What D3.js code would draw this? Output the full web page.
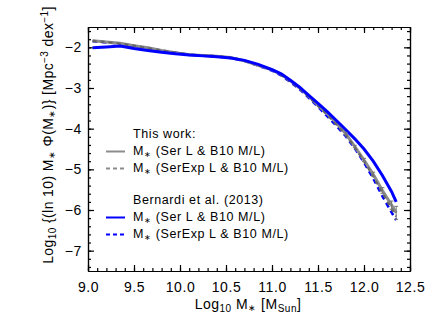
<!DOCTYPE html>
<html>
<head>
<meta charset="utf-8">
<script src="https://cdn.jsdelivr.net/npm/d3@7"></script>
<style>
  body { margin: 0; background: #fff; }
  svg { display: block; font-family: "Liberation Sans", Arial, sans-serif; }
  .axis path, .axis line { stroke: #000; stroke-width: 1.2; }
  .axis text { font-size: 14px; fill: #000; font-family: "Liberation Sans", Arial, sans-serif; letter-spacing: 0.6px; }
</style>
</head>
<body>
<div id="chart"></div>
<script>
// log10 stellar mass grid
const logM = [9.05, 9.2, 9.35, 9.5, 9.65, 9.8, 9.95, 10.1, 10.25, 10.4, 10.55, 10.7, 10.85, 11.0,
  11.1, 11.2, 11.3, 11.4, 11.5, 11.6, 11.7, 11.8, 11.9, 12.0, 12.1, 12.2, 12.3, 12.35];

// this work, Ser L & B10 M/L
const thisSer = [-1.84, -1.87, -1.90, -1.96, -2.01, -2.08, -2.13, -2.18, -2.20, -2.22, -2.25, -2.33, -2.44, -2.55,
  -2.66, -2.82, -3.00, -3.20, -3.42, -3.63, -3.86, -4.12, -4.44, -4.77, -5.12, -5.52, -5.88, -6.07];
const thisSerErr = [0, 0, 0, 0, 0, 0, 0, 0, 0, 0, 0, 0, 0, 0,
  0, 0, 0, 0, 0, 0, 0, 0.03, 0.03, 0.04, 0.05, 0.07, 0.1, 0.16];

// this work, SerExp L & B10 M/L
const thisSerExp = [-1.84, -1.87, -1.91, -1.96, -2.02, -2.08, -2.13, -2.18, -2.20, -2.22, -2.25, -2.33, -2.44, -2.56,
  -2.68, -2.84, -3.02, -3.22, -3.44, -3.66, -3.90, -4.15, -4.46, -4.80, -5.17, -5.58, -5.97, -6.16];

// Bernardi et al. (2013), Ser L & B10 M/L
const b13Ser = [-2.01, -1.99, -1.97, -2.03, -2.08, -2.12, -2.16, -2.19, -2.21, -2.23, -2.26, -2.32, -2.42, -2.55,
  -2.65, -2.81, -2.98, -3.18, -3.38, -3.58, -3.80, -4.02, -4.25, -4.50, -4.80, -5.15, -5.55, -5.80];

// Bernardi et al. (2013), SerExp L & B10 M/L
const b13SerExp = [-1.85, -1.88, -1.91, -1.97, -2.02, -2.08, -2.13, -2.18, -2.20, -2.22, -2.26, -2.33, -2.45, -2.57,
  -2.69, -2.85, -3.03, -3.24, -3.46, -3.69, -3.93, -4.18, -4.48, -4.83, -5.22, -5.66, -6.06, -6.25];

const xTicks = [9.0, 9.5, 10.0, 10.5, 11.0, 11.5, 12.0, 12.5];
const yTicks = [-7, -6, -5, -4, -3, -2];

const width = 436, height = 327;
const margin = { top: 27, right: 26, bottom: 56, left: 88 };
const iwidth = width - margin.left - margin.right;
const iheight = height - margin.top - margin.bottom;

const svg = d3.select("#chart").append("svg")
  .attr("width", width)
  .attr("height", height);

const g = svg.append("g").attr("transform", `translate(${margin.left},${margin.top})`);

const x = d3.scaleLinear().domain([9.0, 12.5]).range([0, iwidth]);
const y = d3.scaleLinear().domain([-7.5, -1.5]).range([iheight, 0]);

const xMinor = d3.range(9.0, 12.501, 0.1);
const yMinor = d3.range(-7.4, -1.5, 0.2);

// bottom / top axes
g.append("g").attr("class", "axis").attr("transform", `translate(0,${iheight})`)
  .call(d3.axisBottom(x).tickValues(xMinor).tickSize(-3).tickSizeOuter(0).tickFormat(""));
g.append("g").attr("class", "axis").attr("transform", `translate(0,${iheight})`)
  .call(d3.axisBottom(x).tickValues(xTicks).tickSize(-6).tickSizeOuter(0).tickPadding(11).tickFormat(d3.format(".1f")));
g.append("g").attr("class", "axis")
  .call(d3.axisTop(x).tickValues(xMinor).tickSize(-3).tickSizeOuter(0).tickFormat(""));
g.append("g").attr("class", "axis")
  .call(d3.axisTop(x).tickValues(xTicks).tickSize(-6).tickSizeOuter(0).tickFormat(""));

// left / right axes
g.append("g").attr("class", "axis")
  .call(d3.axisLeft(y).tickValues(yMinor).tickSize(-3).tickSizeOuter(0).tickFormat(""));
g.append("g").attr("class", "axis")
  .call(d3.axisLeft(y).tickValues(yTicks).tickSize(-6).tickSizeOuter(0).tickPadding(6).tickFormat(d3.format("d")));
g.append("g").attr("class", "axis").attr("transform", `translate(${iwidth},0)`)
  .call(d3.axisRight(y).tickValues(yMinor).tickSize(-3).tickSizeOuter(0).tickFormat(""));
g.append("g").attr("class", "axis").attr("transform", `translate(${iwidth},0)`)
  .call(d3.axisRight(y).tickValues(yTicks).tickSize(-6).tickSizeOuter(0).tickFormat(""));

// curves
const line = d3.line().x((d, i) => x(logM[i])).y(d => y(d));

const series = [
  { vals: b13SerExp, color: "#0000ff", dash: "5,4", w: 2.6 },
  { vals: thisSer, color: "#8c8c8c", dash: null, w: 3 },
  { vals: thisSerExp, color: "#666", dash: "4,4", w: 2.2 },
  { vals: b13Ser, color: "#0000ff", dash: null, w: 3 }
];

series.forEach(s => {
  g.append("path")
    .datum(s.vals)
    .attr("d", line)
    .attr("fill", "none")
    .attr("stroke", s.color)
    .attr("stroke-width", s.w)
    .attr("stroke-dasharray", s.dash);
});

// error bars on this work (Ser)
const errIdx = thisSerErr.map((e, i) => i).filter(i => thisSerErr[i] > 0);
const eb = g.append("g").attr("stroke", "#777").attr("stroke-width", 1);
errIdx.forEach(i => {
  const xi = x(logM[i]);
  const y0 = y(thisSer[i] - thisSerErr[i]), y1 = y(thisSer[i] + thisSerErr[i]);
  eb.append("line").attr("x1", xi).attr("x2", xi).attr("y1", y0).attr("y2", y1);
  eb.append("line").attr("x1", xi - 2).attr("x2", xi + 2).attr("y1", y0).attr("y2", y0);
  eb.append("line").attr("x1", xi - 2).attr("x2", xi + 2).attr("y1", y1).attr("y2", y1);
});

// legend
const legend = svg.append("g").attr("font-size", "12.5px").attr("fill", "#000")
  .attr("letter-spacing", "0.6px");
const rows = [
  { y: 137.5, title: "This work:" },
  { y: 154.5, color: "#8c8c8c", dash: null, lab: "Ser L & B10 M/L" },
  { y: 171.5, color: "#8c8c8c", dash: "4,3", lab: "SerExp L & B10 M/L" },
  { y: 203.5, title: "Bernardi et al. (2013)" },
  { y: 220.5, color: "#0000ff", dash: null, lab: "Ser L & B10 M/L" },
  { y: 237.5, color: "#0000ff", dash: "4,3", lab: "SerExp L & B10 M/L" }
];
rows.forEach(r => {
  if (r.title) {
    legend.append("text").attr("x", 133).attr("y", r.y).text(r.title);
    return;
  }
  legend.append("line")
    .attr("x1", 106).attr("x2", 125).attr("y1", r.y - 3).attr("y2", r.y - 3)
    .attr("stroke", r.color).attr("stroke-width", 2)
    .attr("stroke-dasharray", r.dash);
  const t = legend.append("text").attr("x", 133).attr("y", r.y);
  t.append("tspan").text("M");
  t.append("tspan").attr("font-size", "8px").attr("dy", 2).text("∗");
  t.append("tspan").attr("dy", -2).text(" (" + r.lab + ")");
});

// x label
const xl = svg.append("text")
  .attr("x", 248).attr("y", 309)
  .attr("text-anchor", "middle")
  .attr("letter-spacing", "0.5px")
  .attr("font-size", "14px");
xl.append("tspan").text("Log");
xl.append("tspan").attr("font-size", "10px").attr("dy", 3).text("10");
xl.append("tspan").attr("dy", -3).text(" M");
xl.append("tspan").attr("font-size", "9px").attr("dy", 2).text("∗");
xl.append("tspan").attr("dy", -2).text(" [M");
xl.append("tspan").attr("font-size", "10px").attr("dy", 3).text("Sun");
xl.append("tspan").attr("dy", -3).text("]");

// y label
const yl = svg.append("text")
  .attr("transform", "translate(52.5,135) rotate(-90)")
  .attr("text-anchor", "middle")
  .attr("letter-spacing", "0.4px")
  .attr("font-size", "14px");
yl.append("tspan").text("Log");
yl.append("tspan").attr("font-size", "10px").attr("dy", 3).text("10");
yl.append("tspan").attr("dy", -3).text(" {(ln 10) M");
yl.append("tspan").attr("font-size", "9px").attr("dy", 2).text("∗");
yl.append("tspan").attr("dy", -2).text(" Φ(M");
yl.append("tspan").attr("font-size", "9px").attr("dy", 2).text("∗");
yl.append("tspan").attr("dy", -2).text(")} [Mpc");
yl.append("tspan").attr("font-size", "10px").attr("dy", -5).text("−3");
yl.append("tspan").attr("dy", 5).text(" dex");
yl.append("tspan").attr("font-size", "10px").attr("dy", -5).text("−1");
yl.append("tspan").attr("dy", 5).text("]");
</script>
</body>
</html>
